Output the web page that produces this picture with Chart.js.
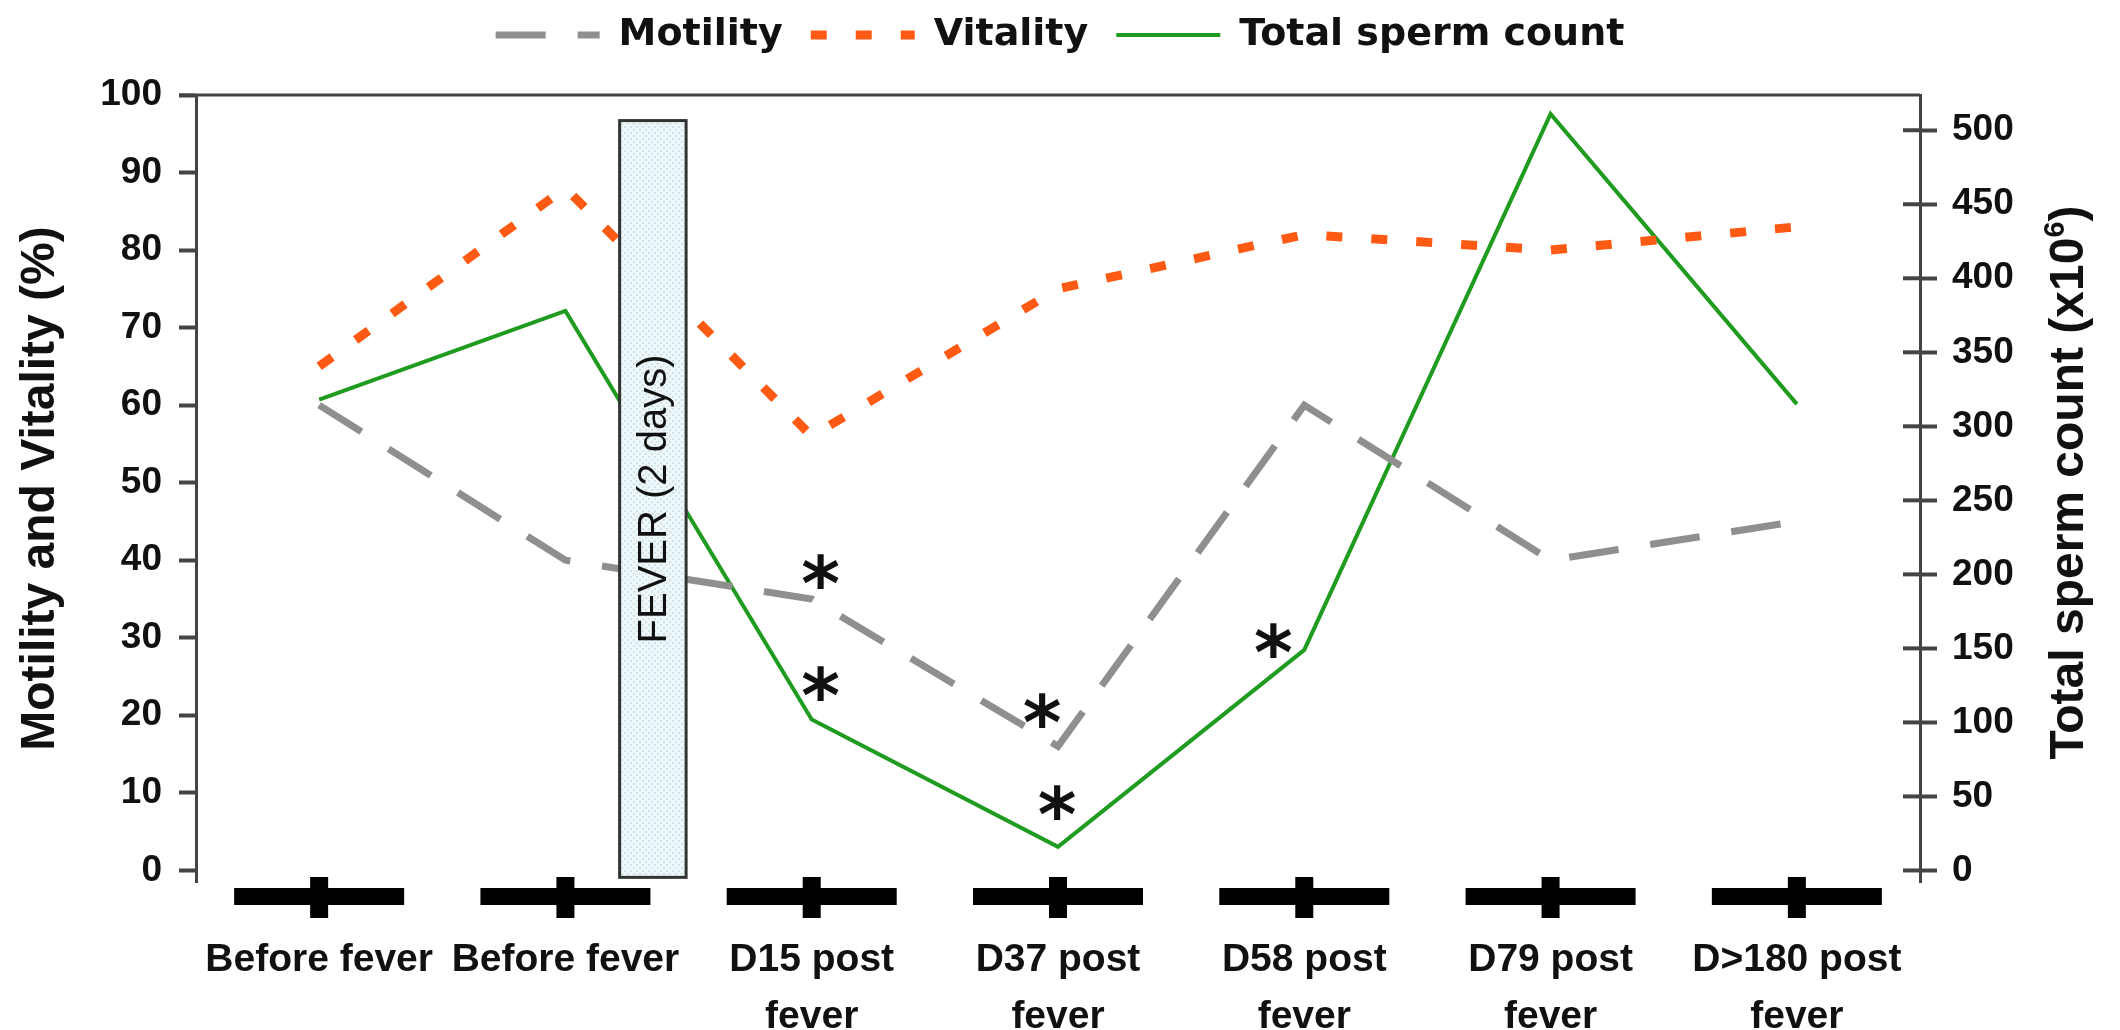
<!DOCTYPE html>
<html>
<head>
<meta charset="utf-8">
<script src="https://cdn.jsdelivr.net/npm/chart.js@4.4.1/dist/chart.umd.min.js"></script>
<style>
  html, body { margin: 0; padding: 0; background: #ffffff; }
  #wrap { width: 2120px; height: 1030px; position: relative; }
</style>
</head>
<body>
<div id="wrap"><canvas id="c" width="2120" height="1030"></canvas></div>
<script>
// ---------------- data ----------------
const categories = [
  ['Before fever'], ['Before fever'], ['D15 post', 'fever'], ['D37 post', 'fever'],
  ['D58 post', 'fever'], ['D79 post', 'fever'], ['D>180 post', 'fever']
];
const seriesNames = ['Motility', 'Vitality', 'Total sperm count'];
const motility   = [60, 40, 35, 16, 60, 40, 45];
const vitality   = [65, 88, 56, 75, 82, 80, 83];
const spermCount = [318, 378, 102, 16, 149, 511, 315];
const leftTicks  = [0, 10, 20, 30, 40, 50, 60, 70, 80, 90, 100];
const rightTicks = [0, 50, 100, 150, 200, 250, 300, 350, 400, 450, 500];
const leftTitle  = 'Motility and Vitality (%)';
const rightTitleParts = ['Total sperm count (x10', '6', ')'];
const feverLabel = 'FEVER (2 days)';
const motilitySignificant = [2, 3];
const countSignificant    = [2, 3, 4];

// ---------------- styling helpers ----------------
const FONT = "'Liberation Sans', Arial, Helvetica, sans-serif";
const AXIS_COLOR = '#444444';

const sigOffsets = {
  0: { 2: [9, -27], 3: [-16, -36] },
  2: { 2: [9, -36], 3: [-1, -44], 4: [-31, -9] }
};

function makePattern(ctx) {
  const pc = document.createElement('canvas');
  pc.width = 6; pc.height = 6;
  const p = pc.getContext('2d');
  p.fillStyle = '#eef7f9'; p.fillRect(0, 0, 6, 6);
  p.fillStyle = '#cfe3e9'; p.fillRect(0, 0, 2, 2); p.fillRect(3, 3, 2, 2);
  return ctx.createPattern(pc, 'repeat');
}

const decorPlugin = {
  id: 'decor',
  beforeLayout(chart) {
    const lg = chart.legend;
    if (lg && !lg._patchedFit) {
      const f = lg.fit;
      lg.fit = function () { f.call(this); this.height = 95; };
      lg._patchedFit = true;
    }
  },
  afterLayout(chart) {
    if (chart.legend) { chart.legend.top -= 12; }
  },
  afterDatasetsDraw(chart) {
    const ctx = chart.ctx;
    const xs = chart.scales.x, ys = chart.scales.y;
    // fever box
    const x1 = xs.getPixelForValue(1.22), x2 = xs.getPixelForValue(1.49);
    const yT = ys.getPixelForValue(96.7), yB = ys.getPixelForValue(-0.9);
    ctx.save();
    ctx.fillStyle = makePattern(ctx);
    ctx.fillRect(x1, yT, x2 - x1, yB - yT);
    ctx.lineWidth = 3; ctx.strokeStyle = '#333333';
    ctx.strokeRect(x1, yT, x2 - x1, yB - yT);
    ctx.translate((x1 + x2) / 2, (yT + yB) / 2);
    ctx.rotate(-Math.PI / 2);
    ctx.font = '40px ' + FONT;
    ctx.fillStyle = '#111111';
    ctx.textAlign = 'center'; ctx.textBaseline = 'middle';
    ctx.fillText(feverLabel, 0, 2);
    ctx.restore();

    // significance asterisks
    ctx.save();
    ctx.font = "bold 74px 'DejaVu Sans', sans-serif";
    ctx.fillStyle = '#111111';
    ctx.textAlign = 'center'; ctx.textBaseline = 'alphabetic';
    const m = ctx.measureText('*');
    const adj = (m.actualBoundingBoxAscent - m.actualBoundingBoxDescent) / 2;
    const marks = [[0, motilitySignificant], [2, countSignificant]];
    marks.forEach(([di, idxs]) => {
      const meta = chart.getDatasetMeta(di);
      idxs.forEach(i => {
        const pt = meta.data[i];
        const off = sigOffsets[di][i];
        ctx.fillText('*', pt.x + off[0], pt.y + off[1] + adj);
      });
    });
    ctx.restore();
  },
  afterDraw(chart) {
    const ctx = chart.ctx;
    const a = chart.chartArea;
    const xs = chart.scales.x, y1 = chart.scales.y1;
    ctx.save();
    // top frame line
    ctx.strokeStyle = AXIS_COLOR; ctx.lineWidth = 3;
    ctx.beginPath(); ctx.moveTo(a.left - 17, a.top); ctx.lineTo(a.right, a.top); ctx.stroke();
    // inner part of right ticks
    ctx.lineWidth = 4;
    y1.ticks.forEach(t => {
      const y = y1.getPixelForValue(t.value);
      ctx.beginPath(); ctx.moveTo(a.right - 17, y); ctx.lineTo(a.right, y); ctx.stroke();
    });
    // thick category markers on x axis
    ctx.fillStyle = '#000000';
    xs.ticks.forEach((t, i) => {
      const x = xs.getPixelForTick(i);
      ctx.fillRect(x - 85, a.bottom + 6, 170, 17);
      ctx.fillRect(x - 9, a.bottom - 5, 18, 41);
    });
    // right axis title (reads bottom to top)
    const cx = chart.width - 50, cy = (a.top + a.bottom) / 2 - 6;
    ctx.translate(cx, cy);
    ctx.rotate(-Math.PI / 2);
    ctx.fillStyle = '#111111';
    ctx.textBaseline = 'middle'; ctx.textAlign = 'left';
    const big = 'bold 48px ' + FONT, small = 'bold 29px ' + FONT;
    ctx.font = big; const w1 = ctx.measureText(rightTitleParts[0]).width;
    const w3 = ctx.measureText(rightTitleParts[2]).width;
    ctx.font = small; const w2 = ctx.measureText(rightTitleParts[1]).width;
    let x0 = -(w1 + w2 + w3) / 2;
    ctx.font = big; ctx.fillText(rightTitleParts[0], x0, 0); x0 += w1;
    ctx.font = small; ctx.fillText(rightTitleParts[1], x0, -14); x0 += w2;
    ctx.font = big; ctx.fillText(rightTitleParts[2], x0, 0);
    ctx.restore();
  }
};

const ctx = document.getElementById('c').getContext('2d');
new Chart(ctx, {
  type: 'line',
  data: {
    labels: categories,
    datasets: [
      { label: seriesNames[0], data: motility, yAxisID: 'y', borderColor: '#8f8f8f', backgroundColor: '#8f8f8f',
        borderWidth: 7, borderDash: [50, 32], borderCapStyle: 'butt', pointRadius: 0, fill: false, tension: 0 },
      { label: seriesNames[1], data: vitality, yAxisID: 'y', borderColor: '#ff5a14', backgroundColor: '#ff5a14',
        borderWidth: 9, borderDash: [16, 29], borderCapStyle: 'butt', pointRadius: 0, fill: false, tension: 0 },
      { label: seriesNames[2], data: spermCount, yAxisID: 'y1', borderColor: '#1f9b1f', backgroundColor: '#1f9b1f',
        borderWidth: 4, borderCapStyle: 'butt', pointRadius: 0, fill: false, tension: 0 }
    ]
  },
  options: {
    responsive: false,
    animation: false,
    devicePixelRatio: 1,
    layout: { padding: 0 },
    plugins: {
      legend: {
        position: 'top',
        labels: {
          usePointStyle: true, pointStyle: 'line', pointStyleWidth: 104,
          font: { family: "'DejaVu Sans', sans-serif", weight: 'bold', size: 38 },
          color: '#111111', padding: 28,
          generateLabels(chart) {
            const items = Chart.defaults.plugins.legend.labels.generateLabels(chart);
            items.forEach((it, i) => {
              const ds = chart.data.datasets[i];
              it.lineDash = ds.borderDash || [];
              it.lineWidth = ds.borderWidth;
              it.strokeStyle = ds.borderColor;
              it.fillStyle = ds.borderColor;
              it.lineCap = 'butt';
              it.pointStyle = 'line';
            });
            return items;
          }
        }
      },
      tooltip: { enabled: false }
    },
    scales: {
      x: {
        offset: true,
        grid: { display: false },
        border: { display: false },
        ticks: {
          font: { family: FONT, weight: 'bold', size: 39, lineHeight: 1.45 },
          color: '#111111', padding: 42, maxRotation: 0, autoSkip: false
        },
        afterFit(s) { s.height = 148; }
      },
      y: {
        position: 'left', min: -1.5, max: 100,
        afterBuildTicks(s) { s.ticks = leftTicks.map(v => ({ value: v })); },
        grid: { drawOnChartArea: false, tickLength: 17, tickWidth: 4, color: AXIS_COLOR },
        border: { display: true, width: 3, color: AXIS_COLOR },
        ticks: { font: { family: FONT, weight: 'bold', size: 37 }, color: '#111111', padding: 17 },
        title: { display: true, text: leftTitle, color: '#111111',
                 font: { family: FONT, weight: 'bold', size: 48, lineHeight: 1.2 }, padding: { top: 12, bottom: 0 } },
        afterFit(s) { s.width = 196; }
      },
      y1: {
        position: 'right', min: -7.8, max: 523.8,
        afterBuildTicks(s) { s.ticks = rightTicks.map(v => ({ value: v })); },
        grid: { drawOnChartArea: false, tickLength: 17, tickWidth: 4, color: AXIS_COLOR },
        border: { display: true, width: 3, color: AXIS_COLOR },
        ticks: { font: { family: FONT, weight: 'bold', size: 37 }, color: '#111111', padding: 15 },
        afterFit(s) { s.width = 200; }
      }
    }
  },
  plugins: [decorPlugin]
});
</script>
</body>
</html>
